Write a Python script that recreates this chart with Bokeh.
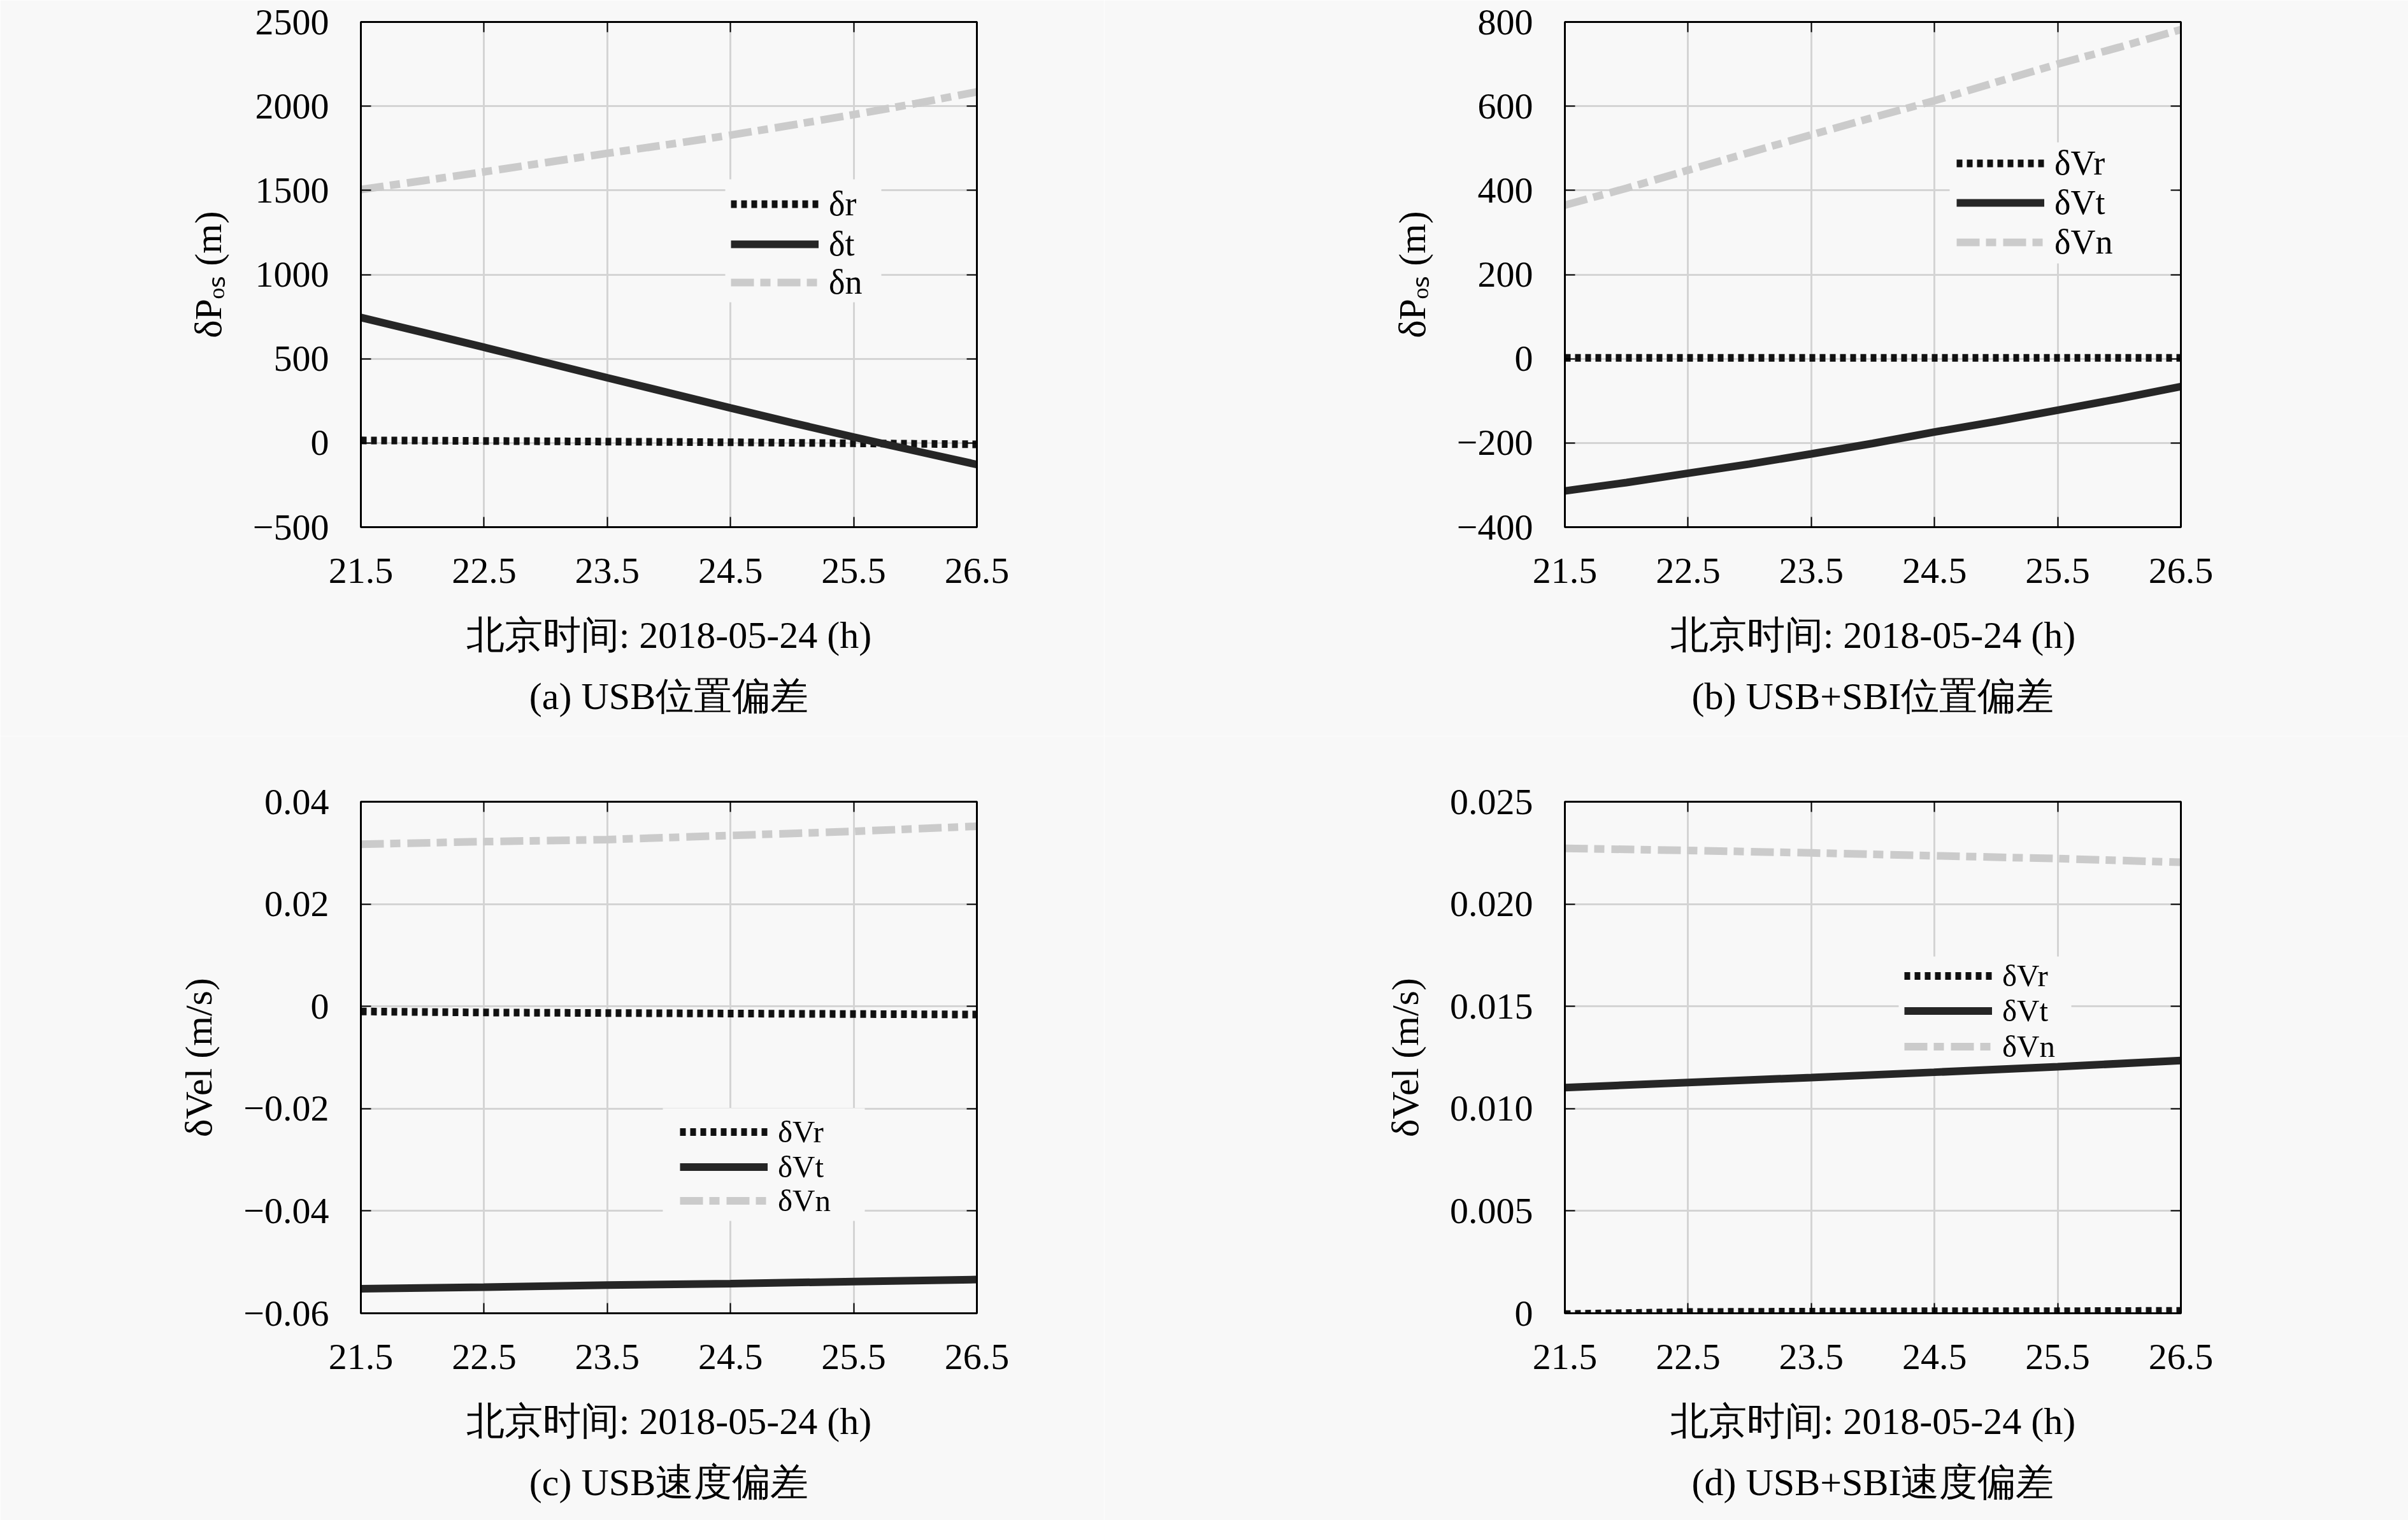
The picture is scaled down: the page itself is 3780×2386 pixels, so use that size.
from bokeh.plotting import figure
from bokeh.models import (Range1d, FixedTicker, LinearAxis, Legend, LegendItem,
                          Title, BoxAnnotation)
from bokeh.layouts import column, row
from bokeh.embed import file_html
from bokeh.resources import INLINE

# ---------------- data ----------------
x_ticks = [21.5, 22.5, 23.5, 24.5, 25.5, 26.5]
x_tick_labels = ["21.5", "22.5", "23.5", "24.5", "25.5", "26.5"]

hours_fine = [21.5, 22.0, 22.5, 23.0, 23.5, 24.0, 24.5, 25.0, 25.5, 26.0, 26.5]
hours = [21.5, 22.5, 23.5, 24.5, 25.5, 26.5]

# (a) USB position error (m)
a_r = [15, 14, 12, 10, 8, 6, 4, 1, -2, -5, -8]
a_t = [745, 657, 568, 478, 387, 298, 208, 120, 35, -47, -128]
a_n = [1505, 1557, 1610, 1665, 1720, 1773, 1828, 1888, 1950, 2015, 2085]
a_yticks = [-500, 0, 500, 1000, 1500, 2000, 2500]
a_ylabels = ["\u2212500", "0", "500", "1000", "1500", "2000", "2500"]

# (b) USB+SBI position error (m)
b_r = [2, 2, 2, 2, 2, 2, 2, 2, 2, 2, 2]
b_t = [-314, -294, -272, -250, -226, -201, -174, -149, -122, -95, -66]
b_n = [365, 405, 448, 490, 532, 573, 613, 657, 700, 740, 782]
b_yticks = [-400, -200, 0, 200, 400, 600, 800]
b_ylabels = ["\u2212400", "\u2212200", "0", "200", "400", "600", "800"]

# (c) USB velocity error (m/s)
c_r = [-0.0010, -0.0012, -0.0013, -0.0014, -0.0015, -0.0016]
c_t = [-0.0552, -0.0549, -0.0545, -0.0542, -0.0538, -0.0534]
c_n = [0.0317, 0.0322, 0.0326, 0.0334, 0.0342, 0.0352]
c_yticks = [-0.06, -0.04, -0.02, 0, 0.02, 0.04]
c_ylabels = ["\u22120.06", "\u22120.04", "\u22120.02", "0", "0.02", "0.04"]

# (d) USB+SBI velocity error (m/s)
d_r = [-0.00004, 0.00006, 0.00008, 0.00010, 0.00010, 0.00012]
d_t = [0.01103, 0.01128, 0.01152, 0.01178, 0.01205, 0.01235]
d_n = [0.02272, 0.02262, 0.02250, 0.02236, 0.02222, 0.02204]
d_yticks = [0, 0.005, 0.01, 0.015, 0.02, 0.025]
d_ylabels = ["0", "0.005", "0.010", "0.015", "0.020", "0.025"]

xlabel = "北京时间: 2018-05-24 (h)"

# ---------------- style ----------------
BG = "#f8f8f8"
FONT = "Liberation Serif"
TICK_FS = "58px"
LABEL_FS = "60px"
C_R = "#111111"
C_T = "#262626"
C_N = "#cbcbcb"
LW = 12


def make_panel(xs, r, t, n, yr, yticks, ylabels, ylabel, caption, names,
               fw, fh, mbl, mbr, mbt, mbb, leg_x, leg_rows, leg_fs, row_h, box):
    p = figure(x_range=Range1d(21.5, 26.5), y_range=Range1d(*yr),
               frame_width=fw, frame_height=fh,
               min_border_left=mbl, min_border_right=mbr,
               min_border_top=mbt, min_border_bottom=mbb,
               output_backend="svg", toolbar_location=None,
               background_fill_color=BG, border_fill_color=BG)
    p.outline_line_color = "black"
    p.outline_line_width = 3

    # legend background patch (covers the grid, under the data lines)
    bl, br, bb, bt = box
    p.add_layout(BoxAnnotation(left=bl, right=br, bottom=bb, top=bt,
                               left_units="screen", right_units="screen",
                               bottom_units="screen", top_units="screen",
                               fill_color=BG, fill_alpha=1.0, line_alpha=0,
                               level="underlay"))

    rr = p.line(xs, r, line_color=C_R, line_width=LW, line_dash="9 7")
    rt = p.line(xs, t, line_color=C_T, line_width=LW)
    rn = p.line(xs, n, line_color=C_N, line_width=LW, line_dash="36 10 16 11")

    xover = {v: s for v, s in zip(x_ticks, x_tick_labels)}
    yover = {v: s for v, s in zip(yticks, ylabels)}

    for ax in p.xaxis:
        ax.ticker = FixedTicker(ticks=x_ticks)
        ax.major_label_overrides = xover
        ax.axis_label = xlabel
        ax.major_label_standoff = 49
        ax.axis_label_standoff = 46
    for ax in p.yaxis:
        ax.ticker = FixedTicker(ticks=yticks)
        ax.major_label_overrides = yover
        ax.axis_label = ylabel
        ax.major_label_standoff = 50
        ax.axis_label_standoff = 34

    for ax in list(p.xaxis) + list(p.yaxis):
        ax.minor_tick_line_color = None
        ax.major_tick_in = 16
        ax.major_tick_out = 0
        ax.major_tick_line_width = 2
        ax.major_tick_line_color = "black"
        ax.axis_line_color = "black"
        ax.axis_line_width = 3
        ax.major_label_text_font = FONT
        ax.major_label_text_font_size = TICK_FS
        ax.major_label_text_color = "black"
        ax.axis_label_text_font = FONT
        ax.axis_label_text_font_size = LABEL_FS
        ax.axis_label_text_font_style = "normal"
        ax.axis_label_text_color = "black"

    # mirrored tick marks on the right and top (no labels drawn)
    for side, tk in (("right", yticks), ("above", x_ticks)):
        m = LinearAxis(ticker=FixedTicker(ticks=tk),
                       major_label_text_font_size="0px",
                       major_label_text_alpha=0,
                       major_label_standoff=0,
                       minor_tick_line_color=None,
                       major_tick_in=16, major_tick_out=0,
                       major_tick_line_width=2,
                       axis_line_color="black", axis_line_width=3)
        p.add_layout(m, side)

    p.xgrid.ticker = FixedTicker(ticks=x_ticks)
    p.ygrid.ticker = FixedTicker(ticks=yticks)
    for g in (p.xgrid, p.ygrid):
        g.grid_line_color = "#d4d4d4"
        g.grid_line_width = 3

    # one legend per entry so the rows can sit as tightly as in the original
    for name, rend, cy in zip(names, (rr, rt, rn), leg_rows):
        leg = Legend(items=[LegendItem(label=name, renderers=[rend])],
                     location=(leg_x, cy - row_h // 2),
                     background_fill_alpha=0, border_line_alpha=0,
                     label_text_font=FONT, label_text_font_size=leg_fs,
                     label_text_color="black",
                     glyph_width=138, glyph_height=row_h, label_height=row_h,
                     label_standoff=16, spacing=0, padding=0, margin=0)
        p.add_layout(leg)

    cap = Title(text=caption, align="center", text_font=FONT,
                text_font_size=LABEL_FS, text_font_style="normal",
                text_color="black", standoff=50)
    p.add_layout(cap, "below")
    return p


FW = 967

pa = make_panel(hours_fine, a_r, a_t, a_n, (-500, 2500), a_yticks, a_ylabels,
                "δPₒₛ (m)", "(a) USB位置偏差", ["δr", "δt", "δn"],
                FW, 793, 566, 200, 34, 328,
                581, (507, 444, 384), "54px", 62, (572, 817, 353, 546))
pb = make_panel(hours_fine, b_r, b_t, b_n, (-400, 800), b_yticks, b_ylabels,
                "δPₒₛ (m)", "(b) USB+SBI位置偏差", ["δVr", "δVt", "δVn"],
                FW, 793, 723, 357, 34, 328,
                615, (571, 509, 447), "54px", 62, (604, 962, 414, 604))
pc = make_panel(hours, c_r, c_t, c_n, (-0.06, 0.04), c_yticks, c_ylabels,
                "δVel (m/s)", "(c) USB速度偏差", ["δVr", "δVt", "δVn"],
                FW, 803, 566, 200, 103, 326,
                501, (283, 228, 175), "49px", 55, (474, 791, 145, 322))
pd = make_panel(hours, d_r, d_t, d_n, (0, 0.025), d_yticks, d_ylabels,
                "δVel (m/s)", "(d) USB+SBI速度偏差", ["δVr", "δVt", "δVn"],
                FW, 803, 723, 357, 103, 326,
                533, (528, 473, 417), "49px", 55, (524, 795, 385, 560))

layout = column(row(pa, pb), row(pc, pd))

open("out.html", "w").write(file_html(layout, INLINE))
